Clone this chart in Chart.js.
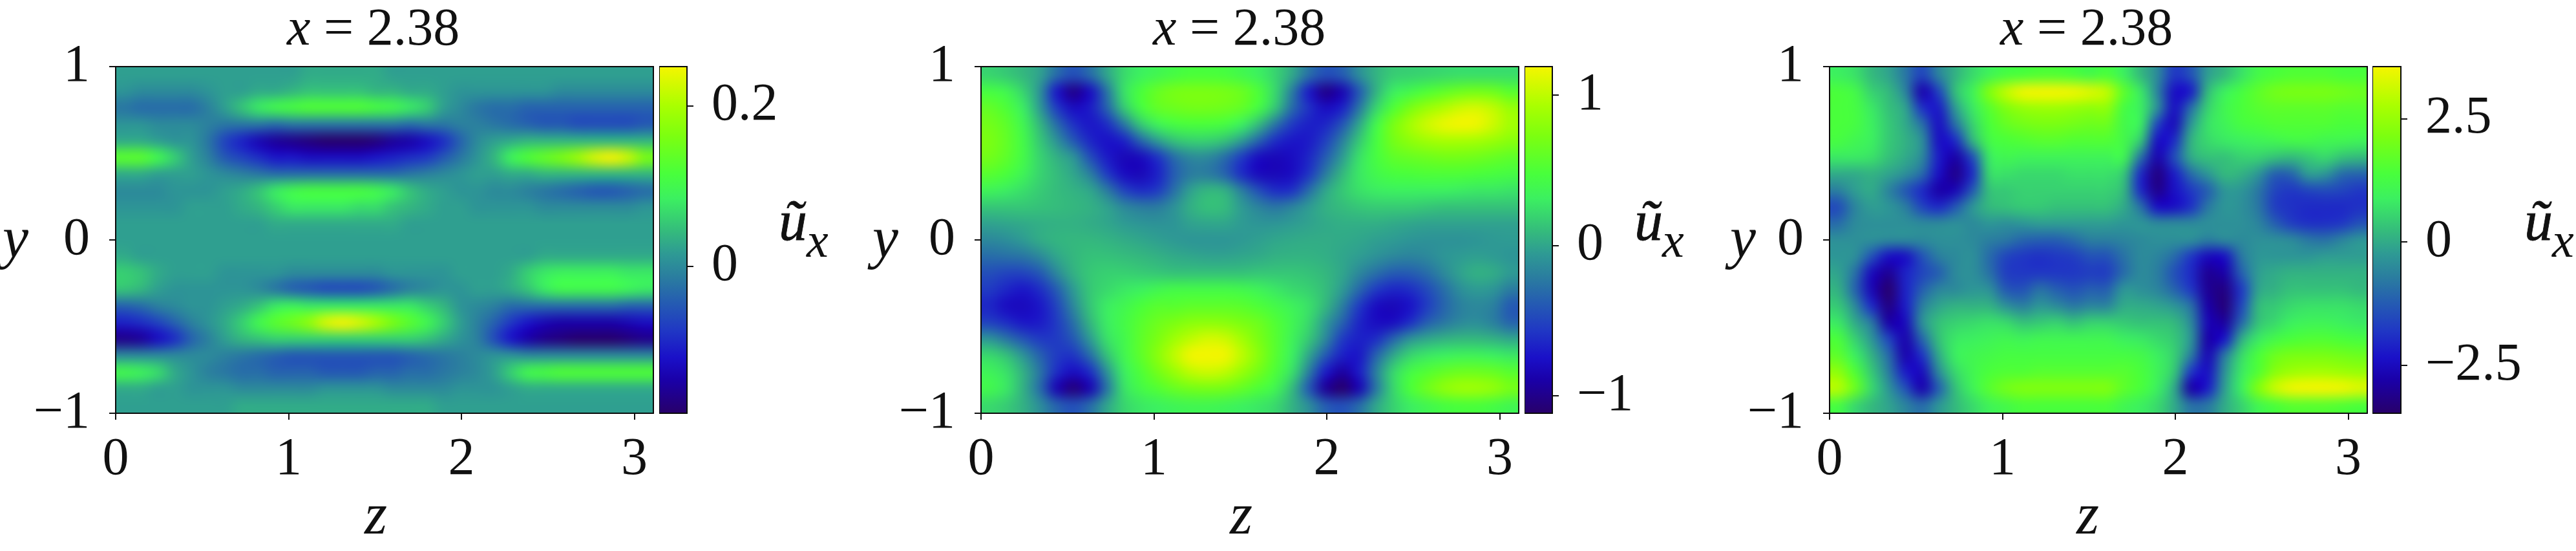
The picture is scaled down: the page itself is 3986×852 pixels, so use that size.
<!DOCTYPE html>
<html>
<head>
<meta charset="utf-8">
<script src="https://cdn.jsdelivr.net/npm/chart.js@4/dist/chart.umd.min.js"></script>
<style>
  html, body { margin: 0; background: #fff; }
  #page { position: relative; width: 3986px; height: 852px; overflow: hidden; }
  canvas { position: absolute; top: 0; }
  .lbl { position: absolute; font-family: "Liberation Serif", serif; color: #111; line-height: 1; white-space: pre; }
  .lbl i { font-style: italic; }
</style>
</head>
<body>
<div id="page"></div>
<script>
// u_x fields, rows run from y = +1 (top) to y = -1, columns from z = 0
const zTicks = [0, 1, 2, 3];
const yTicks = [-1, 0, 1];
const zMax = 3.11;

// panel 1, in hundredths
const ux1 = [
  [2,2,2,2,2,2,2,2,2,2,2,3,3,3,3,3,2,2,2,2,2,2,2,2,2,2,2,2,2,2,2,2],
  [1,0,0,0,0,1,2,2,3,3,4,5,5,5,5,4,4,3,3,2,1,1,1,1,1,1,0,0,0,0,0,0],
  [-2,-3,-3,-3,-3,-1,2,5,8,10,11,12,12,12,12,11,10,8,6,2,0,-2,-3,-3,-4,-4,-4,-4,-4,-4,-4,-4],
  [1,1,0,0,0,-1,-2,-2,-2,-3,-2,-2,-2,-2,-2,-2,-2,-3,-2,-2,-1,-1,-2,-3,-4,-5,-5,-6,-6,-6,-6,-5],
  [3,3,2,1,1,-2,-7,-10,-13,-15,-16,-17,-18,-18,-18,-17,-15,-14,-12,-9,-4,0,2,3,4,4,4,4,4,4,4,4],
  [13,13,10,6,2,-1,-5,-7,-9,-11,-11,-12,-12,-12,-12,-11,-10,-9,-8,-5,-2,1,4,9,12,14,16,19,23,25,22,16],
  [3,3,2,2,2,1,0,-1,-2,-3,-3,-3,-3,-3,-3,-3,-3,-2,-1,0,1,2,2,3,3,4,4,4,4,4,4,4],
  [0,0,0,1,1,1,2,3,5,8,10,11,11,11,11,10,8,5,3,2,1,1,0,0,-1,-2,-3,-4,-5,-5,-4,-3],
  [1,1,1,1,2,2,2,3,4,6,8,8,8,8,7,7,5,4,3,2,2,1,1,1,1,0,0,0,0,0,0,1],
  [2,2,2,2,2,2,2,2,2,3,3,3,3,3,3,3,3,2,2,2,2,2,2,2,2,2,2,2,2,2,2,2],
  [2,2,2,2,2,2,2,2,2,2,2,2,2,2,2,2,2,2,2,2,2,2,2,2,2,2,2,2,2,2,2,2],
  [3,2,2,2,2,2,2,2,2,2,2,2,2,2,2,2,2,2,2,2,2,2,2,2,2,3,3,3,3,3,3,3],
  [6,5,3,2,2,2,1,1,1,1,0,0,0,0,0,0,1,1,1,1,2,2,2,3,6,8,9,9,9,9,8,8],
  [5,4,2,1,1,1,1,1,0,-2,-4,-5,-6,-6,-6,-5,-3,-1,0,1,1,2,2,3,5,8,10,10,10,10,9,8],
  [-4,-3,-1,0,1,1,2,3,5,8,9,8,8,8,8,8,8,8,6,4,1,0,-1,-3,-3,-3,-3,-3,-3,-3,-4,-4],
  [-10,-9,-7,-4,-1,1,3,6,10,13,15,18,23,25,23,20,16,13,10,6,2,-1,-4,-8,-11,-13,-14,-14,-14,-14,-13,-12],
  [-16,-15,-12,-9,-4,-1,2,4,5,6,6,6,6,6,6,6,6,6,5,3,1,-1,-6,-11,-14,-16,-17,-18,-18,-18,-17,-16],
  [0,0,0,0,0,0,-1,-2,-3,-4,-5,-5,-5,-5,-5,-5,-5,-4,-3,-2,-1,0,1,1,0,0,0,0,0,0,0,0],
  [10,9,7,3,1,-1,-2,-3,-3,-4,-4,-4,-5,-5,-5,-4,-4,-3,-3,-2,-1,0,2,6,10,11,12,12,12,12,12,12],
  [3,3,2,2,1,1,1,0,0,0,0,0,1,1,1,1,0,0,0,0,1,1,1,2,3,3,3,3,3,3,3,3],
  [2,2,2,2,2,2,2,3,3,3,3,3,3,3,3,3,3,3,3,2,2,2,2,2,2,2,2,2,2,2,2,2],
];

// panel 2, in hundredths
const ux2 = [
  [20,15,8,-2,-30,-45,-30,0,22,32,38,44,48,48,46,40,32,20,2,-28,-45,-38,-12,6,16,18,20,22,24,24,24,24],
  [45,38,20,-10,-72,-100,-78,-25,25,48,62,70,72,72,70,64,50,22,-20,-70,-100,-85,-40,5,30,40,50,58,65,68,65,55],
  [60,50,30,-5,-55,-78,-70,-35,15,45,60,65,68,68,66,60,45,15,-30,-60,-78,-68,-25,20,50,70,85,95,105,108,100,85],
  [68,58,38,8,-30,-60,-72,-62,-25,15,35,45,48,48,45,32,10,-25,-55,-68,-65,-42,0,40,70,90,105,115,119,117,105,90],
  [72,60,42,15,-10,-40,-65,-75,-68,-35,-5,12,18,18,12,-5,-35,-62,-72,-70,-52,-20,15,45,68,80,88,92,92,90,85,78],
  [68,58,42,20,5,-8,-45,-70,-82,-80,-60,-30,-15,-15,-30,-55,-78,-82,-78,-65,-38,-5,25,45,58,62,65,68,68,66,62,58],
  [55,48,36,20,10,0,-20,-55,-78,-82,-68,-38,-22,-22,-35,-62,-80,-82,-78,-58,-22,8,28,40,46,48,50,50,50,48,46,44],
  [35,30,24,16,10,6,0,-22,-50,-62,-55,-28,-2,8,5,-20,-45,-62,-60,-30,0,15,25,30,32,32,32,32,30,28,28,26],
  [14,14,14,12,10,8,5,-2,-15,-22,-22,-10,5,12,10,-5,-18,-25,-18,-5,5,10,14,16,16,16,14,12,12,12,12,12],
  [-2,0,2,4,5,5,3,0,-5,-8,-10,-8,-2,0,0,-5,-8,-8,-5,-2,2,4,4,4,2,0,-2,-2,-2,-2,-2,-2],
  [-15,-12,-5,3,7,8,8,6,3,0,-3,-6,-8,-8,-8,-6,-3,0,2,3,3,2,0,-3,-5,-8,-10,-10,-10,-8,-6,-5],
  [-30,-28,-25,-15,0,8,12,12,10,8,5,2,0,-2,-2,0,2,5,6,6,4,0,-4,-10,-15,-18,-15,-8,-5,-3,-5,-8],
  [-45,-50,-50,-40,-15,5,15,18,18,16,14,12,12,12,12,12,14,14,14,12,8,0,-15,-28,-38,-38,-30,-15,-2,5,3,-5],
  [-55,-65,-72,-62,-38,-5,15,22,28,32,38,42,42,42,42,40,35,28,22,18,10,-5,-32,-55,-65,-62,-48,-30,-12,-5,-8,-22],
  [-65,-78,-80,-72,-50,-15,14,30,38,48,55,55,58,58,58,56,50,42,34,25,8,-20,-55,-78,-82,-75,-55,-35,-20,-15,-20,-40],
  [-52,-62,-72,-70,-55,-28,8,30,42,55,65,72,78,80,78,72,65,52,38,22,-5,-35,-65,-78,-78,-62,-38,-25,-15,-12,-20,-35],
  [-8,-25,-42,-55,-55,-40,-5,25,40,58,72,88,100,108,105,90,72,55,35,15,-15,-55,-68,-62,-35,-10,0,5,8,8,5,0],
  [22,12,-8,-35,-55,-58,-30,12,38,58,78,100,118,119,118,100,78,55,32,0,-40,-68,-72,-35,0,20,28,32,35,35,32,28],
  [35,25,5,-25,-62,-78,-62,-10,30,50,68,85,100,105,100,85,68,50,25,-20,-70,-92,-70,-20,20,42,52,60,65,65,62,55],
  [40,28,5,-30,-85,-105,-85,-25,25,42,52,62,68,70,68,60,50,38,10,-40,-95,-110,-85,-25,20,48,65,80,88,88,82,70],
  [22,16,5,-12,-35,-45,-30,0,20,28,32,36,38,38,36,32,28,22,6,-12,-38,-45,-30,0,18,30,38,45,48,48,44,38],
];

// panel 3, in tenths
const ux3 = [
  [9,7,2,-1,-8,-16,-6,1,6,10,13,14,15,15,14,12,14,9,2,-5,-18,-14,-2,2,7,12,14,15,15,15,14,14],
  [14,12,5,2,-6,-27,-16,3,10,22,30,35,36,36,35,33,30,17,8,-6,-24,-22,2,9,13,17,20,21,21,21,20,19],
  [14,13,8,3,-1,-19,-22,-2,8,16,22,25,26,26,25,24,24,13,9,-4,-24,-10,5,11,14,16,17,17,17,17,16,16],
  [14,13,9,4,0,-9,-24,-9,5,14,18,20,21,21,20,19,19,12,9,-16,-25,-3,7,10,13,14,15,15,15,15,14,14],
  [13,11,9,4,1,-4,-24,-20,1,12,14,15,16,16,15,15,15,12,4,-24,-20,1,6,8,9,10,11,12,12,11,11,10],
  [8,8,7,3,0,-5,-22,-28,-15,8,11,10,10,10,10,10,10,11,-9,-27,-15,0,3,3,5,5,3,2,4,6,3,2],
  [0,0,1,-1,-4,-10,-24,-31,-20,6,7,6,6,6,7,7,7,4,-20,-32,-22,-10,-3,2,1,-3,-12,-11,-2,-3,-10,-11],
  [-7,-2,0,-6,-13,-20,-28,-26,-13,3,4,5,5,5,5,5,5,2,-20,-31,-24,-18,-12,-3,-3,-8,-16,-18,-16,-15,-16,-18],
  [-15,-6,-2,-3,-7,-16,-20,-13,-3,2,3,4,4,3,3,3,3,0,-9,-24,-24,-19,-8,-3,-4,-8,-17,-19,-20,-20,-20,-19],
  [-10,-5,-4,-4,-4,-5,-5,-4,-5,-3,-4,-3,-2,-2,-2,-2,-2,-3,-3,-5,-5,-5,-4,-4,-4,-6,-12,-17,-19,-19,-18,-14],
  [-4,-4,-4,-5,-5,-5,-4,-4,-5,-7,-8,-11,-12,-12,-10,-7,-7,-6,-5,-4,-4,-4,-7,-5,-5,-4,-4,-5,-8,-9,-6,-3],
  [-3,-4,-14,-24,-24,-14,-7,-5,-4,-10,-16,-18,-19,-18,-17,-14,-14,-9,-5,-6,-10,-18,-25,-24,-8,-3,-3,-3,-3,-2,-2,-2],
  [-1,-9,-25,-30,-21,-16,-12,-5,-4,-9,-17,-18,-18,-18,-18,-17,-17,-10,-5,-7,-14,-20,-30,-28,-12,-2,0,1,1,1,1,1],
  [1,-11,-26,-34,-21,-12,-6,-5,-3,-4,-13,-14,-9,-12,-14,-12,-12,-3,-4,-6,-11,-18,-30,-32,-18,-1,1,3,3,3,3,2],
  [4,-5,-20,-32,-22,-7,-1,1,1,1,-4,-7,-3,-5,-8,-6,-6,0,0,-1,-3,-9,-28,-33,-16,2,4,6,7,7,7,6],
  [8,0,-8,-28,-25,-4,3,5,6,7,6,3,4,5,3,5,5,4,3,3,2,-5,-26,-29,-11,3,6,9,10,10,9,8],
  [14,5,-3,-16,-27,-11,3,8,9,10,11,10,11,11,11,11,11,9,8,6,4,-3,-28,-23,0,8,12,14,15,15,14,13],
  [17,9,1,-10,-27,-19,0,9,11,12,13,13,13,13,13,13,13,13,12,9,5,-7,-26,-8,6,14,19,21,21,21,20,19],
  [24,15,4,-7,-22,-25,-5,6,11,14,15,15,16,16,16,16,16,16,14,10,4,-18,-24,-4,8,15,23,26,27,27,26,25],
  [29,19,6,-3,-14,-27,-12,3,10,16,20,22,22,22,22,22,22,17,14,9,0,-28,-22,-2,9,22,31,35,36,36,35,33],
  [13,6,2,-1,-6,-10,-3,2,6,10,12,14,14,14,14,14,14,11,9,6,0,-9,-8,0,5,11,14,16,16,16,15,14],
];

// colour bar ranges and ticks
const range1 = [-0.183, 0.249], cbTicks1 = [0, 0.2];
const range2 = [-1.116, 1.19], cbTicks2 = [-1, 0, 1];
const range3 = [-3.47, 3.56], cbTicks3 = [-2.5, 0, 2.5];

const cmapStops = [0, 0.096, 0.16, 0.24, 0.31, 0.39, 0.46, 0.52, 0.62, 0.69, 0.8, 0.888, 1];
const cmapColors = ['#28006a', '#1a00a8', '#1a10c8', '#2038c4', '#2458b4', '#2a7ca0', '#2e9a94',
                    '#34b87e', '#3cf060', '#48ff3c', '#7cff10', '#aaff00', '#f5f500'];

function rgb(hex) { return [1, 3, 5].map(i => parseInt(hex.slice(i, i + 2), 16)); }
function cmap(t) {
  t = Math.min(1, Math.max(0, t));
  let i = 0;
  while (i < cmapStops.length - 2 && t > cmapStops[i + 1]) i++;
  const f = (t - cmapStops[i]) / (cmapStops[i + 1] - cmapStops[i]);
  const a = rgb(cmapColors[i]), b = rgb(cmapColors[i + 1]);
  return `rgb(${a.map((v, k) => Math.round(v + (b[k] - v) * f)).join(',')})`;
}
function fmtTick(v) { return String(v).replace('-', '\u2212'); }

// right margin has to stay bigger than the padding the x scale asks for, or the plot shrinks
const TOP = 103, BOTTOM = 639, PLOT_W = 832, YAXIS_W = 179, RIGHT_PAD = 40, CANVAS_H = 852;
const page = document.getElementById('page');

function addCanvas(left, width) {
  const c = document.createElement('canvas');
  c.width = width; c.height = CANVAS_H;
  c.style.left = left + 'px';
  page.appendChild(c);
  return c;
}
function addLabel(html, x, baseline, size, extra = '') {
  const d = document.createElement('div');
  d.className = 'lbl';
  d.innerHTML = html;
  d.style.cssText = `left:${x}px;top:${baseline - 0.8385 * size}px;font-size:${size}px;${extra}`;
  page.appendChild(d);
}

const tickFont = { family: '"Liberation Serif", serif', size: 82 };

// frame on top of the cells
const framePlugin = {
  id: 'frame',
  afterDraw(chart) {
    const { left, top, width, height } = chart.chartArea;
    const ctx = chart.ctx;
    ctx.save();
    ctx.strokeStyle = '#0a0a0a';
    ctx.lineWidth = 2;
    ctx.strokeRect(left, top, width, height);
    ctx.restore();
  },
};

// the cells are drawn blocky by the library, pick one pixel per cell and scale that back up smoothly
const smoothPlugin = {
  id: 'smooth',
  afterDatasetsDraw(chart, args, opts) {
    const { left, top, width, height } = chart.chartArea;
    const tmp = document.createElement('canvas');
    tmp.width = opts.cols; tmp.height = opts.rows;
    const t = tmp.getContext('2d');
    t.imageSmoothingEnabled = false;
    t.drawImage(chart.canvas, left, top, width, height, 0, 0, opts.cols, opts.rows);
    const ctx = chart.ctx;
    ctx.save();
    ctx.imageSmoothingEnabled = true;
    ctx.imageSmoothingQuality = 'high';
    ctx.drawImage(tmp, left, top, width, height);
    ctx.restore();
  },
};

function renderField(plotLeft, rows, scale, range) {
  const nRows = rows.length, nCols = rows[0].length;
  const cells = [], colors = [];
  rows.forEach((row, r) => row.forEach((v, c) => {
    const val = v / scale;
    cells.push({ x: (c + 0.5) * zMax / nCols, y: 1 - (r + 0.5) * 2 / nRows, v: val });
    colors.push(cmap((val - range[0]) / (range[1] - range[0])));
  }));
  new Chart(addCanvas(plotLeft - YAXIS_W, YAXIS_W + PLOT_W + RIGHT_PAD), {
    type: 'scatter',
    data: { datasets: [{ data: cells, pointStyle: 'rect', pointRadius: 20, pointBorderWidth: 0,
      pointBackgroundColor: colors, pointHoverRadius: 20 }] },
    plugins: [smoothPlugin, framePlugin],
    options: {
      responsive: false, animation: false, events: [],
      layout: { padding: { top: TOP, right: RIGHT_PAD, left: 0, bottom: 0 } },
      plugins: { legend: { display: false }, tooltip: { enabled: false }, smooth: { cols: nCols, rows: nRows } },
      scales: {
        x: { type: 'linear', min: 0, max: zMax,
          afterBuildTicks: s => { s.ticks = zTicks.map(value => ({ value })); },
          afterFit: s => { s.height = CANVAS_H - BOTTOM; },
          border: { display: false },
          grid: { drawOnChartArea: false, color: '#111', lineWidth: 2, tickLength: 10 },
          ticks: { color: '#111', font: tickFont, padding: 13, maxRotation: 0, autoSkip: false, callback: fmtTick } },
        y: { type: 'linear', min: -1, max: 1,
          afterBuildTicks: s => { s.ticks = yTicks.map(value => ({ value })); },
          afterFit: s => { s.width = YAXIS_W; },
          border: { display: false },
          grid: { drawOnChartArea: false, color: '#111', lineWidth: 2, tickLength: 10 },
          ticks: { color: '#111', font: tickFont, padding: 30, autoSkip: false, callback: fmtTick } },
      },
    },
  });
}

function renderColorbar(left, width, range, ticks) {
  const AXIS_W = 220;
  new Chart(addCanvas(left, width + AXIS_W), {
    type: 'bar',
    data: { labels: ['ux'], datasets: [{ data: [range], barPercentage: 1, categoryPercentage: 1,
      backgroundColor: ctx => {
        const area = ctx.chart.chartArea;
        if (!area) return '#2e9a94';
        const g = ctx.chart.ctx.createLinearGradient(0, area.bottom, 0, area.top);
        cmapStops.forEach((s, i) => g.addColorStop(s, cmapColors[i]));
        return g;
      } }] },
    plugins: [framePlugin],
    options: {
      responsive: false, animation: false, events: [],
      layout: { padding: { top: TOP, bottom: CANVAS_H - BOTTOM, left: 0, right: 0 } },
      plugins: { legend: { display: false }, tooltip: { enabled: false } },
      scales: {
        x: { display: false },
        y: { position: 'right', min: range[0], max: range[1],
          afterBuildTicks: s => { s.ticks = ticks.map(value => ({ value })); },
          afterFit: s => { s.width = AXIS_W; },
          border: { display: false },
          grid: { drawOnChartArea: false, color: '#111', lineWidth: 2, tickLength: 10 },
          ticks: { color: '#111', font: tickFont, padding: 28, autoSkip: false, callback: fmtTick } },
      },
    },
  });
}

function panelText(titleX, yX, zX, uX, subX) {
  addLabel('<i>x</i> = 2.38', titleX, 70, 82);
  addLabel('<i>y</i>', yX, 398, 90);
  addLabel('<i>z</i>', zX, 825, 90);
  addLabel('<i>\u0169</i>', uX, 372, 88, '-webkit-text-stroke:0.8px #111;');
  addLabel('<i>x</i>', subX, 397, 76);
}

renderField(179, ux1, 100, range1);
renderColorbar(1020, 43, range1, cbTicks1);
panelText(444, 4, 564, 1205, 1248);

renderField(1518, ux2, 100, range2);
renderColorbar(2359, 43, range2, cbTicks2);
panelText(1784, 1350, 1903, 2529, 2572);

renderField(2831, ux3, 10, range3);
renderColorbar(3671, 44, range3, cbTicks3);
panelText(3095, 2677, 3213, 3906, 3949);
</script>
</body>
</html>
